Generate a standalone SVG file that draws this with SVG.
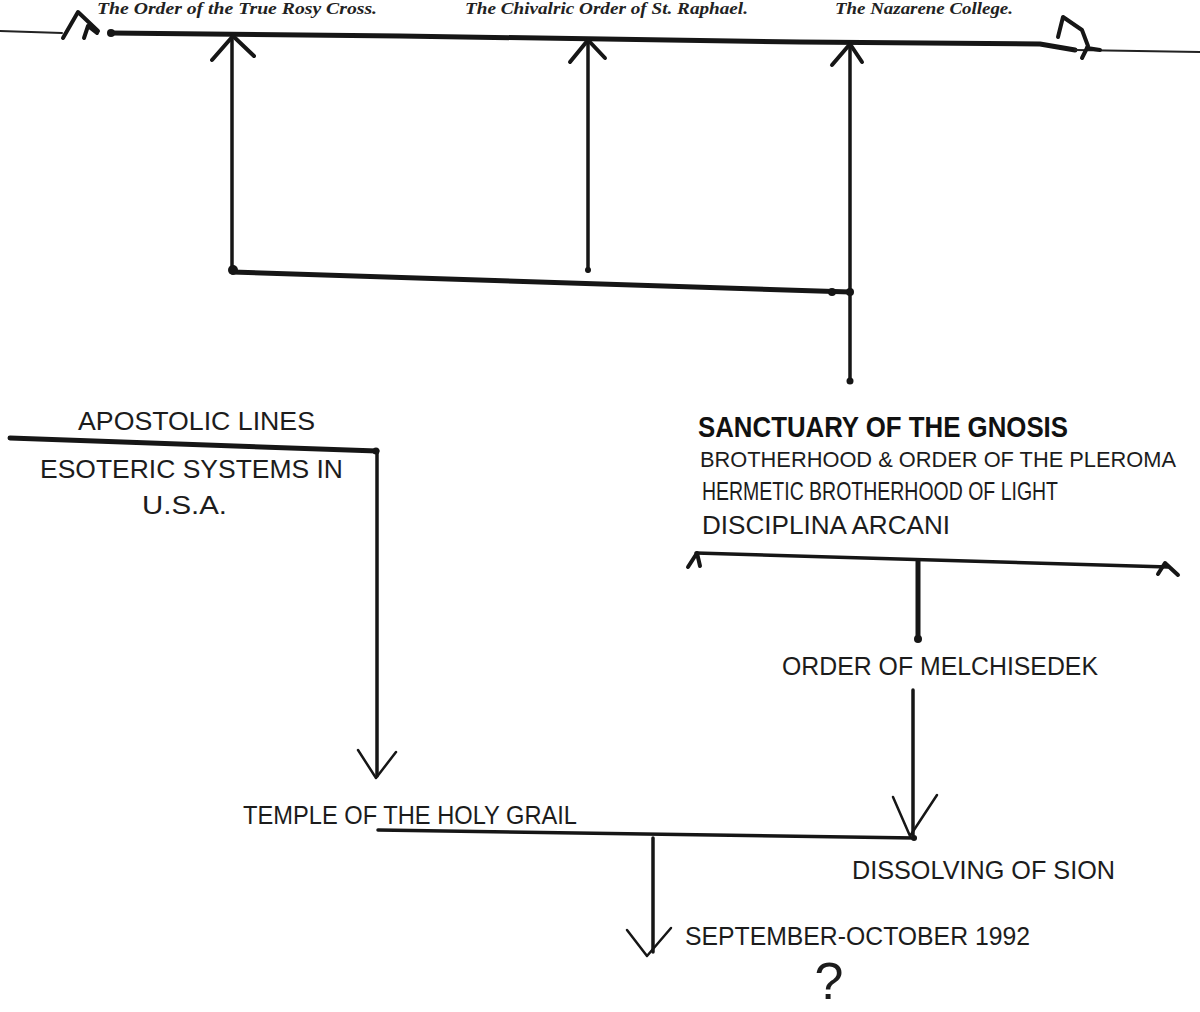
<svg xmlns="http://www.w3.org/2000/svg" width="1200" height="1012" viewBox="0 0 1200 1012">
<style>
.print{font-family:"Liberation Serif","Times New Roman",serif;font-weight:bold;font-style:italic;font-size:17px;fill:#222}
.hand{font-family:"Liberation Sans",Arial,sans-serif;font-size:25px;fill:#1c1c1c}
.hand2{font-family:"Liberation Sans",Arial,sans-serif;font-size:22px;fill:#1c1c1c}
.handb{font-family:"Liberation Sans",Arial,sans-serif;font-size:30px;font-weight:bold;fill:#111}
.qm{font-family:"Liberation Sans",Arial,sans-serif;font-size:52px;fill:#1c1c1c}
.thick{stroke:#161616;stroke-width:5;fill:none;stroke-linecap:round;stroke-linejoin:round}
.med{stroke:#161616;stroke-width:3.5;fill:none;stroke-linecap:round;stroke-linejoin:round}
.thin{stroke:#222;stroke-width:2;fill:none;stroke-linecap:round}
.vhead{stroke:#161616;stroke-width:2.5;fill:none;stroke-linecap:round;stroke-linejoin:round}
.head{stroke:#161616;stroke-width:4;fill:none;stroke-linecap:round;stroke-linejoin:round}
.dot{fill:#161616}
</style>
<rect width="1200" height="1012" fill="#ffffff"/>

<g id="connectors">
  <!-- top main line -->
  <polyline class="thin" points="0,31 62,33"/>
  <polyline class="thick" points="111,33 400,36 800,42 1040,44 1075,50"/>
  <polyline class="thin" points="1075,50 1200,52"/>
  <circle class="dot" cx="111" cy="33" r="4"/>
  <!-- left top arrowhead -->
  <polyline class="head" points="63,38 78,12 98,31"/>
  <polyline class="head" points="84,38 88,26 97,33"/>
  <!-- right top arrowhead -->
  <polyline class="head" points="1058,37 1063,17 1082,30 1088,46 1082,58"/>
  <polyline class="head" points="1087,48 1100,50"/>
  <!-- up arrows -->
  <line class="med" x1="232" y1="36" x2="232" y2="272"/>
  <polyline class="head" points="212,60 233,36 254,56"/>
  <line class="med" x1="588" y1="40" x2="588" y2="271"/>
  <circle class="dot" cx="588" cy="270" r="3"/>
  <polyline class="head" points="570,62 588,40 605,58"/>
  <line class="med" x1="850" y1="44" x2="850" y2="382"/>
  <circle class="dot" cx="850" cy="381" r="3.5"/>
  <polyline class="head" points="832,65 850,44 862,62"/>
  <!-- bottom connector -->
  <polyline class="thick" points="232,272 850,292"/>
  <circle class="dot" cx="233" cy="270" r="5"/>
  <circle class="dot" cx="832" cy="292" r="4"/>
  <circle class="dot" cx="850" cy="292" r="4"/>
  <!-- apostolic lines -->
  <polyline class="thick" points="10,438 377,451"/>
  <circle class="dot" cx="376" cy="451" r="3.5"/>
  <line class="med" x1="377" y1="451" x2="377" y2="776"/>
  <polyline class="vhead" points="358,750 376,778 396,752"/>
  <!-- sanctuary branch -->
  <polyline class="med" points="696,553 1168,567"/>
  <polyline class="head" points="688,567 697,553 700,566"/>
  <polyline class="head" points="1158,574 1165,563 1178,575"/>
  <line class="thick" x1="918" y1="561" x2="918" y2="639"/>
  <circle class="dot" cx="918" cy="639" r="4"/>
  <!-- melchisedek down -->
  <line class="med" x1="913" y1="690" x2="913" y2="835"/>
  <polyline class="vhead" points="893,797 910,836 937,795"/>
  <!-- temple line -->
  <polyline class="med" stroke-width="4" points="378,830 915,838"/>
  <circle class="dot" cx="914" cy="838" r="3"/>
  <line class="med" x1="653" y1="838" x2="653" y2="952"/>
  <polyline class="vhead" points="627,930 647,956 671,928"/>
</g>

<g id="printed-labels">
  <text class="print" x="97" y="14" textLength="280" lengthAdjust="spacingAndGlyphs">The Order of the True Rosy Cross.</text>
  <text class="print" x="465" y="14" textLength="283" lengthAdjust="spacingAndGlyphs">The Chivalric Order of St. Raphael.</text>
  <text class="print" x="835" y="14" textLength="178" lengthAdjust="spacingAndGlyphs">The Nazarene College.</text>
</g>

<g id="node-apostolic">
  <text class="hand" x="78" y="430" textLength="237" lengthAdjust="spacingAndGlyphs">APOSTOLIC LINES</text>
</g>
<g id="node-esoteric">
  <text class="hand" x="40" y="478" textLength="303" lengthAdjust="spacingAndGlyphs">ESOTERIC SYSTEMS IN</text>
  <text class="hand" x="142" y="514" textLength="85" lengthAdjust="spacingAndGlyphs">U.S.A.</text>
</g>
<g id="node-sanctuary">
  <text class="handb" x="698" y="437" textLength="370" lengthAdjust="spacingAndGlyphs">SANCTUARY OF THE GNOSIS</text>
  <text class="hand2" x="700" y="467" textLength="476" lengthAdjust="spacingAndGlyphs">BROTHERHOOD &amp; ORDER OF THE PLEROMA</text>
  <text class="hand" x="702" y="500" textLength="356" lengthAdjust="spacingAndGlyphs">HERMETIC BROTHERHOOD OF LIGHT</text>
  <text class="hand" x="702" y="534" textLength="248" lengthAdjust="spacingAndGlyphs">DISCIPLINA ARCANI</text>
</g>
<g id="node-melchisedek">
  <text class="hand" x="782" y="675" textLength="316" lengthAdjust="spacingAndGlyphs">ORDER OF MELCHISEDEK</text>
</g>
<g id="node-temple">
  <text class="hand" x="243" y="824" textLength="334" lengthAdjust="spacingAndGlyphs">TEMPLE OF THE HOLY GRAIL</text>
</g>
<g id="node-sion">
  <text class="hand" x="852" y="879" textLength="263" lengthAdjust="spacingAndGlyphs">DISSOLVING OF SION</text>
</g>
<g id="node-date">
  <text class="hand" x="685" y="945" textLength="345" lengthAdjust="spacingAndGlyphs">SEPTEMBER-OCTOBER 1992</text>
  <text class="qm" x="829" y="999" text-anchor="middle">?</text>
</g>
</svg>
